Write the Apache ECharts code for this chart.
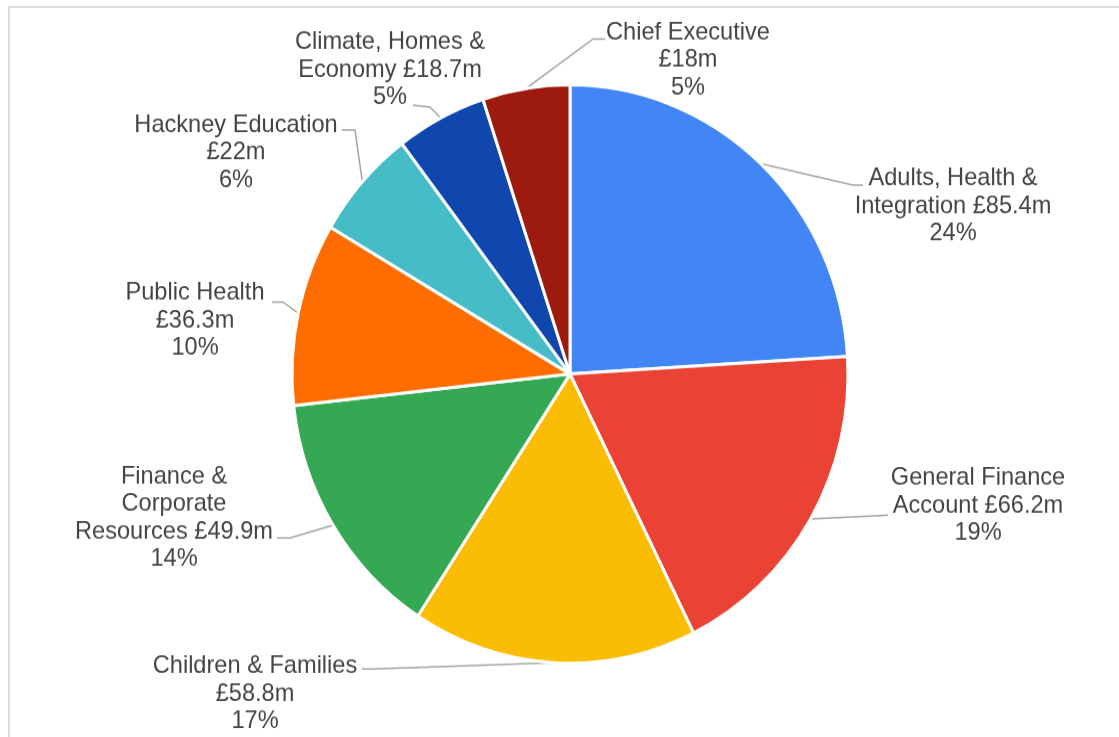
<!DOCTYPE html>
<html>
<head>
<meta charset="utf-8">
<title>Budget by directorate</title>
<script src="https://cdn.jsdelivr.net/npm/echarts@6/dist/echarts.min.js"></script>
<style>
  html, body { margin: 0; padding: 0; background: #fff; overflow: hidden; }
  #frame {
    position: absolute; left: 8px; top: 6px; width: 1200px; height: 800px;
    border-left: 2px solid #dedede; border-top: 2px solid #dedede;
  }
  #chart {
    position: absolute; left: 0; top: 0; width: 1119px; height: 708.65px;
    transform: scaleY(1.04); transform-origin: 0 0;
  }
</style>
</head>
<body>
<div id="frame"></div>
<div id="chart"></div>
<script>
// Directorate budgets, £ millions
const categories = [
  'Adults, Health &\nIntegration',
  'General Finance\nAccount',
  'Children & Families',
  'Finance &\nCorporate\nResources',
  'Public Health',
  'Hackney Education',
  'Climate, Homes &\nEconomy',
  'Chief Executive'
];
const budgets = [85.4, 66.2, 58.8, 49.9, 36.3, 22, 18.7, 18];

// Slice colours
const colors = ['#4285f4', '#ea4335', '#fbbc04', '#34a853', '#ff6d01', '#46bdc6', '#0f47af', '#9c1a0e'];

// Vertical stretch applied to the chart container
const STRETCH = 1.04;

// Label placement: text centre (x, y), leader elbow (ex, ey), leader end (tx, ty);
// sep joins the name and the amount
const labelPos = [
  { x: 953, y: 206,   ex: 853, ey: 185,   tx: 863, ty: 185, sep: ' ' },
  { x: 978, y: 505.5, ex: 880, ey: 515.5, tx: 888, ty: 515, sep: ' ' },
  { x: 255, y: 694,   ex: 372, ey: 669,   tx: 362, ty: 669, sep: '\n' },
  { x: 174, y: 517.7, ex: 290, ey: 538,   tx: 277, ty: 538, sep: ' ' },
  { x: 195, y: 320.5, ex: 283, ey: 302,   tx: 272, ty: 302, sep: '\n' },
  { x: 236, y: 152.5, ex: 355, ey: 130,   tx: 342, ty: 130, sep: '\n' },
  { x: 390, y: 70,    ex: 430, ey: 107,   tx: 413, ty: 105, sep: ' ' },
  { x: 688, y: 60,    ex: 593, ey: 39,    tx: 605, ty: 39,  sep: '\n' }
];

const total = budgets.reduce((a, b) => a + b, 0);
const data = categories.map((name, i) => ({
  name: name,
  value: budgets[i],
  itemStyle: { color: colors[i] }
}));

const chart = echarts.init(document.getElementById('chart'));
const cx = 570, cy = 374 / STRETCH, R = 278;

chart.setOption({
  animation: false,
  backgroundColor: 'transparent',
  series: [{
    type: 'pie',
    center: [cx, cy],
    radius: R,
    startAngle: 90,
    clockwise: true,
    avoidLabelOverlap: false,
    data: data,
    itemStyle: { borderColor: '#ffffff', borderWidth: 3 },
    label: {
      show: true,
      position: 'outside',
      alignTo: 'none',
      fontFamily: '"Liberation Sans", Arial, sans-serif',
      fontSize: 23.6,
      lineHeight: 26.4,
      color: '#444444',
      align: 'center',
      formatter: function (p) {
        const pct = Math.round(p.value / total * 100);
        return p.name + labelPos[p.dataIndex].sep + '£' + p.value + 'm\n' + pct + '%';
      }
    },
    labelLine: {
      show: true,
      length: 10,
      length2: 10,
      smooth: false,
      lineStyle: { color: '#a3a3a3', width: 1.5 }
    },
    labelLayout: function (params) {
      const L = labelPos[params.dataIndex];
      let start;
      if (params.labelLinePoints && params.labelLinePoints.length) {
        start = params.labelLinePoints[0];
      } else {
        // Mid-angle of the slice on its outer edge
        let before = 0;
        for (let k = 0; k < params.dataIndex; k++) before += budgets[k];
        const mid = (before + budgets[params.dataIndex] / 2) / total * Math.PI * 2;
        start = [cx + R * Math.sin(mid), cy - R * Math.cos(mid)];
      }
      return {
        x: L.x,
        y: L.y / STRETCH,
        align: 'center',
        verticalAlign: 'middle',
        labelLinePoints: [
          [start[0], start[1]],
          [L.ex, L.ey / STRETCH],
          [L.tx, L.ty / STRETCH]
        ]
      };
    }
  }]
});
</script>
</body>
</html>
